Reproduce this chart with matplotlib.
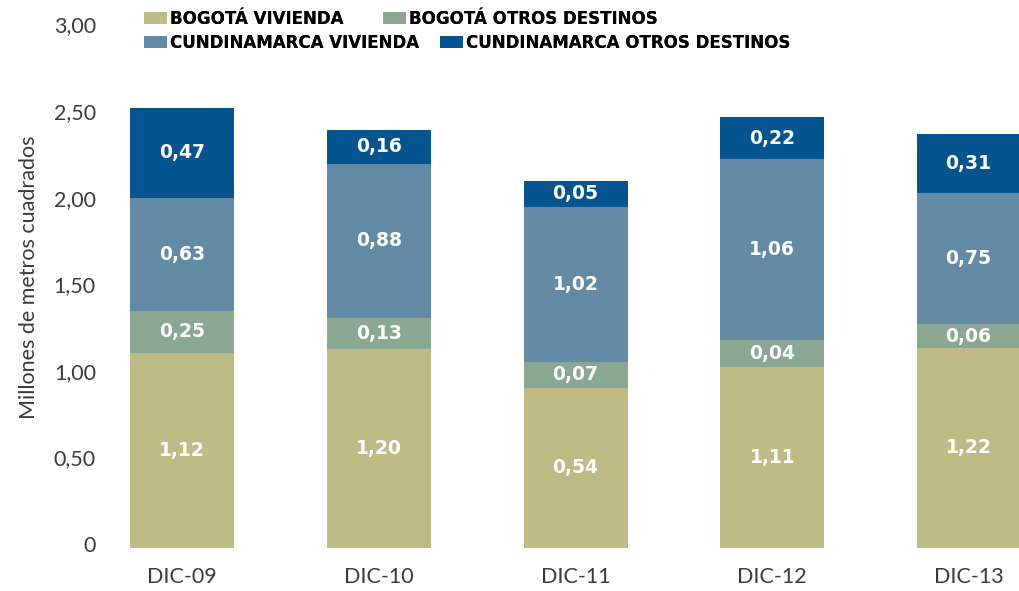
import matplotlib
matplotlib.use('Agg')
import matplotlib.pyplot as plt
import matplotlib.transforms as mtransforms
import numpy as np

# ---- data ----
categories = ['DIC-09', 'DIC-10', 'DIC-11', 'DIC-12', 'DIC-13']
series_names = ['BOGOTÁ VIVIENDA', 'BOGOTÁ OTROS DESTINOS',
                'CUNDINAMARCA VIVIENDA', 'CUNDINAMARCA OTROS DESTINOS']
# segment heights as drawn in the picture
bogota_vivienda = [1.126, 1.151, 0.924, 1.045, 1.155]
bogota_otros = [0.244, 0.177, 0.150, 0.156, 0.138]
cund_vivienda = [0.653, 0.891, 0.895, 1.045, 0.757]
cund_otros = [0.519, 0.194, 0.150, 0.242, 0.340]
# printed value labels
lbl_bogota_vivienda = ['1,12', '1,20', '0,54', '1,11', '1,22']
lbl_bogota_otros = ['0,25', '0,13', '0,07', '0,04', '0,06']
lbl_cund_vivienda = ['0,63', '0,88', '1,02', '1,06', '0,75']
lbl_cund_otros = ['0,47', '0,16', '0,05', '0,22', '0,31']
y_ticks = [0, 0.5, 1.0, 1.5, 2.0, 2.5, 3.0]
y_tick_labels = ['0', '0,50', '1,00', '1,50', '2,00', '2,50', '3,00']

colors = ['#BFBB85', '#8AA792', '#648BA5', '#03548F']
text_col = '#3a3a3a'

W, H = 1020, 591
fig = plt.figure(figsize=(W / 100, H / 100), dpi=100)
fig.patch.set_facecolor('white')

ax_left, ax_right = 100, 1020
ax_bottom_px, ax_top_px = 548, 28.4
ax = fig.add_axes([ax_left / W, (H - ax_bottom_px) / H,
                   (ax_right - ax_left) / W, (ax_bottom_px - ax_top_px) / H])

x = np.arange(len(categories))
width = 0.529
series = [bogota_vivienda, bogota_otros, cund_vivienda, cund_otros]
labels = [lbl_bogota_vivienda, lbl_bogota_otros, lbl_cund_vivienda, lbl_cund_otros]
bottom = np.zeros(len(categories))
containers = []
for vals, lbls, name, col in zip(series, labels, series_names, colors):
    bc = ax.bar(x, vals, width, bottom=bottom, color=col, label=name, linewidth=0)
    ax.bar_label(bc, labels=lbls, label_type='center', color='white',
                 fontsize=13.5, fontweight='bold', family='DejaVu Sans')
    containers.append(bc)
    bottom = bottom + np.array(vals)

ax.set_xlim(-0.417, 4.259)
ax.set_ylim(0, 3.0)
ax.set_yticks(y_ticks)
ax.set_yticklabels(y_tick_labels)
ax.set_xticks(x)
ax.set_xticklabels(categories)
for s in ax.spines.values():
    s.set_visible(False)
ax.tick_params(axis='both', length=0, labelcolor=text_col, labelsize=15.5)
ax.tick_params(axis='y', pad=3)
ax.tick_params(axis='x', pad=14)
for t in ax.get_xticklabels() + ax.get_yticklabels():
    t.set_fontfamily('Lato')
    t.set_fontweight('normal')
    t.set_color(text_col)
shift_up = mtransforms.ScaledTranslation(0, 4 / 100, fig.dpi_scale_trans)
for t in ax.get_yticklabels():
    t.set_transform(t.get_transform() + shift_up)

ax.set_ylabel('Millones de metros cuadrados', fontsize=15.5, family='Lato',
              fontweight='normal', color=text_col)
ax.yaxis.set_label_coords((39 - ax_left) / (ax_right - ax_left),
                          (ax_bottom_px - 277) / (ax_bottom_px - ax_top_px))

# legend: four single-entry legends positioned like the reference
leg_pos = [(144, 19), (383, 19), (144, 43), (440, 43)]
fs = 12
fs_px = fs * 100 / 72
for bc, name, (px, py) in zip(containers, series_names, leg_pos):
    lg = fig.legend(handles=[bc], labels=[name], loc='center left',
                    bbox_to_anchor=(px / W, 1 - py / H), frameon=False,
                    borderpad=0, borderaxespad=0,
                    handlelength=23 / fs_px, handleheight=12 / fs_px,
                    handletextpad=3 / fs_px,
                    prop={'family': 'DejaVu Sans', 'weight': 'bold', 'size': fs})
    fig.add_artist(lg)

fig.savefig('out.png', dpi=100, facecolor='white')
